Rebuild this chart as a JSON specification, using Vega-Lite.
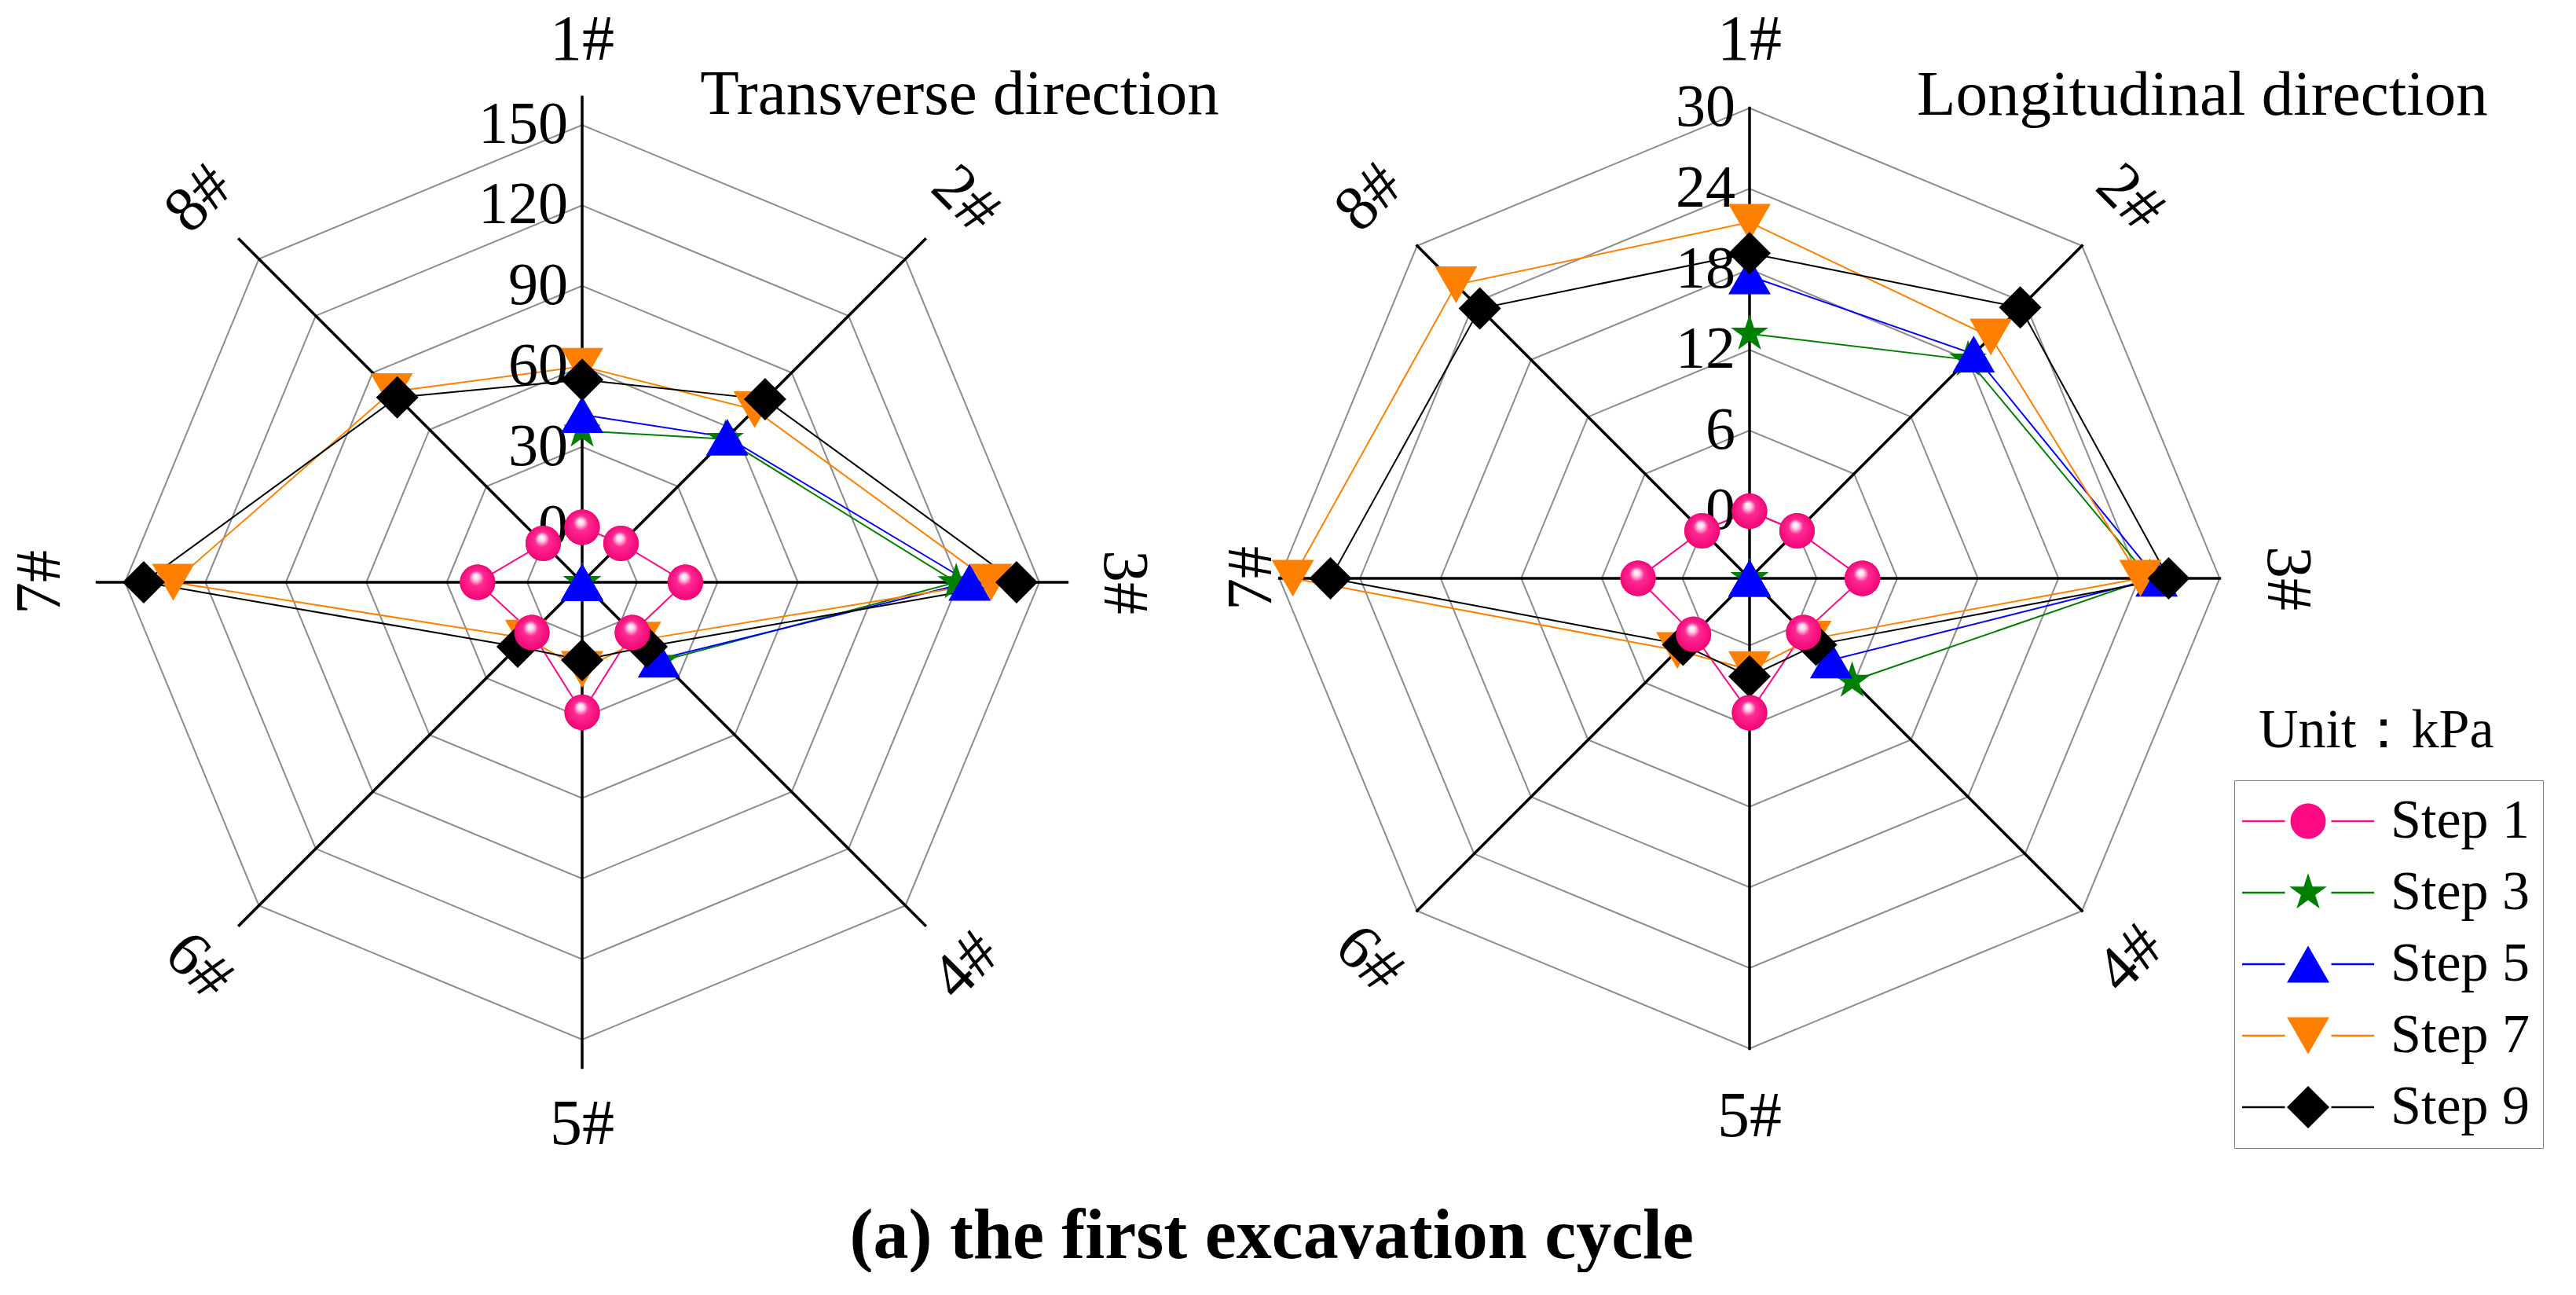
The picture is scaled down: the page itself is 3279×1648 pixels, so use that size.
{
  "$schema": "https://vega.github.io/schema/vega-lite/v6.json",
  "padding": 0,
  "background": "white",
  "bounds": "flush",
  "spacing": 0,
  "title": {"text": "(a) the first excavation cycle", "orient": "bottom", "anchor": "middle", "font": "Liberation Serif", "fontSize": 90, "fontWeight": "bold", "color": "black", "offset": 48},
  "config": {"view": {"stroke": null}, "axis": {"disable": true}, "text": {"font": "Liberation Serif", "color": "black"}},
  "datasets": {
    "trans": [
      {"step": "Step 1", "probe": "1#", "value": 0}, {"step": "Step 1", "probe": "2#", "value": 0}, {"step": "Step 1", "probe": "3#", "value": 18}, {"step": "Step 1", "probe": "4#", "value": 6}, {"step": "Step 1", "probe": "5#", "value": 28}, {"step": "Step 1", "probe": "6#", "value": 6}, {"step": "Step 1", "probe": "7#", "value": 18.5}, {"step": "Step 1", "probe": "8#", "value": 0},
      {"step": "Step 3", "probe": "1#", "value": 36}, {"step": "Step 3", "probe": "2#", "value": 55}, {"step": "Step 3", "probe": "3#", "value": 119}, {"step": "Step 3", "probe": "4#", "value": 21}, {"step": "Step 3", "probe": "5#", "value": -20.5}, {"step": "Step 3", "probe": "6#", "value": -20.5}, {"step": "Step 3", "probe": "7#", "value": -20.5}, {"step": "Step 3", "probe": "8#", "value": -20.5},
      {"step": "Step 5", "probe": "1#", "value": 42}, {"step": "Step 5", "probe": "2#", "value": 56}, {"step": "Step 5", "probe": "3#", "value": 124}, {"step": "Step 5", "probe": "4#", "value": 20}, {"step": "Step 5", "probe": "5#", "value": -20.5}, {"step": "Step 5", "probe": "6#", "value": -20.5}, {"step": "Step 5", "probe": "7#", "value": -20.5}, {"step": "Step 5", "probe": "8#", "value": -20.5},
      {"step": "Step 7", "probe": "1#", "value": 60}, {"step": "Step 7", "probe": "2#", "value": 70.5}, {"step": "Step 7", "probe": "3#", "value": 132}, {"step": "Step 7", "probe": "4#", "value": 10}, {"step": "Step 7", "probe": "5#", "value": 12}, {"step": "Step 7", "probe": "6#", "value": 9}, {"step": "Step 7", "probe": "7#", "value": 132}, {"step": "Step 7", "probe": "8#", "value": 80},
      {"step": "Step 9", "probe": "1#", "value": 55}, {"step": "Step 9", "probe": "2#", "value": 76}, {"step": "Step 9", "probe": "3#", "value": 141.5}, {"step": "Step 9", "probe": "4#", "value": 13.5}, {"step": "Step 9", "probe": "5#", "value": 8.5}, {"step": "Step 9", "probe": "6#", "value": 13.5}, {"step": "Step 9", "probe": "7#", "value": 143}, {"step": "Step 9", "probe": "8#", "value": 77}
    ],
    "longi": [
      {"step": "Step 1", "probe": "1#", "value": 0}, {"step": "Step 1", "probe": "2#", "value": 0}, {"step": "Step 1", "probe": "3#", "value": 3.4}, {"step": "Step 1", "probe": "4#", "value": 0.7}, {"step": "Step 1", "probe": "5#", "value": 5}, {"step": "Step 1", "probe": "6#", "value": 0.9}, {"step": "Step 1", "probe": "7#", "value": 3.3}, {"step": "Step 1", "probe": "8#", "value": 0},
      {"step": "Step 3", "probe": "1#", "value": 13.2}, {"step": "Step 3", "probe": "2#", "value": 18}, {"step": "Step 3", "probe": "3#", "value": 24.8}, {"step": "Step 3", "probe": "4#", "value": 5.8}, {"step": "Step 3", "probe": "5#", "value": -5}, {"step": "Step 3", "probe": "6#", "value": -5}, {"step": "Step 3", "probe": "7#", "value": -5}, {"step": "Step 3", "probe": "8#", "value": -5},
      {"step": "Step 5", "probe": "1#", "value": 17.5}, {"step": "Step 5", "probe": "2#", "value": 18.6}, {"step": "Step 5", "probe": "3#", "value": 25.3}, {"step": "Step 5", "probe": "4#", "value": 3.6}, {"step": "Step 5", "probe": "5#", "value": -5}, {"step": "Step 5", "probe": "6#", "value": -5}, {"step": "Step 5", "probe": "7#", "value": -5}, {"step": "Step 5", "probe": "8#", "value": -5},
      {"step": "Step 7", "probe": "1#", "value": 21.5}, {"step": "Step 7", "probe": "2#", "value": 20.4}, {"step": "Step 7", "probe": "3#", "value": 24.1}, {"step": "Step 7", "probe": "4#", "value": 1.4}, {"step": "Step 7", "probe": "5#", "value": 1.8}, {"step": "Step 7", "probe": "6#", "value": 2.6}, {"step": "Step 7", "probe": "7#", "value": 29}, {"step": "Step 7", "probe": "8#", "value": 25.9},
      {"step": "Step 9", "probe": "1#", "value": 19.2}, {"step": "Step 9", "probe": "2#", "value": 23.5}, {"step": "Step 9", "probe": "3#", "value": 26.2}, {"step": "Step 9", "probe": "4#", "value": 2}, {"step": "Step 9", "probe": "5#", "value": 2.3}, {"step": "Step 9", "probe": "6#", "value": 2}, {"step": "Step 9", "probe": "7#", "value": 26.2}, {"step": "Step 9", "probe": "8#", "value": 23.4}
    ],
    "probes": [{"probe": "1#"}, {"probe": "2#"}, {"probe": "3#"}, {"probe": "4#"}, {"probe": "5#"}, {"probe": "6#"}, {"probe": "7#"}, {"probe": "8#"}]
  },
  "hconcat": [
    {
      "width": 1482,
      "height": 1482,
      "layer": [
        {
          "data": {"values": [
            {"ring": 0, "probe": ["1#", "2#", "3#", "4#", "5#", "6#", "7#", "8#"]},
            {"ring": 30, "probe": ["1#", "2#", "3#", "4#", "5#", "6#", "7#", "8#"]},
            {"ring": 60, "probe": ["1#", "2#", "3#", "4#", "5#", "6#", "7#", "8#"]},
            {"ring": 90, "probe": ["1#", "2#", "3#", "4#", "5#", "6#", "7#", "8#"]},
            {"ring": 120, "probe": ["1#", "2#", "3#", "4#", "5#", "6#", "7#", "8#"]},
            {"ring": 150, "probe": ["1#", "2#", "3#", "4#", "5#", "6#", "7#", "8#"]}
          ]},
          "transform": [
            {"flatten": ["probe"]},
            {"calculate": "indexof(['1#','2#','3#','4#','5#','6#','7#','8#'], datum.probe)", "as": "i"},
            {"calculate": "(datum.ring + 20.5) * sin(datum.i * PI / 4)", "as": "px"},
            {"calculate": "(datum.ring + 20.5) * cos(datum.i * PI / 4)", "as": "py"}
          ],
          "mark": {"type": "line", "interpolate": "linear-closed", "color": "#8c8c8c", "strokeWidth": 2},
          "encoding": {
            "x": {"field": "px", "type": "quantitative", "scale": {"domain": [-217.1, 217.1], "nice": false, "zero": false}, "axis": null},
            "y": {"field": "py", "type": "quantitative", "scale": {"domain": [-217.1, 217.1], "nice": false, "zero": false}, "axis": null},
            "detail": {"field": "ring", "type": "nominal"},
            "order": {"field": "i", "type": "quantitative"}
          }
        },
        {
          "data": {"name": "trans"},
          "transform": [
            {"calculate": "indexof(['1#','2#','3#','4#','5#','6#','7#','8#'], datum.probe)", "as": "i"},
            {"calculate": "(datum.value + 20.5) * sin(datum.i * PI / 4)", "as": "px"},
            {"calculate": "(datum.value + 20.5) * cos(datum.i * PI / 4)", "as": "py"}
          ],
          "mark": {"type": "line", "interpolate": "linear-closed", "strokeWidth": 2},
          "encoding": {
            "x": {"field": "px", "type": "quantitative", "axis": null},
            "y": {"field": "py", "type": "quantitative", "axis": null},
            "color": {"field": "step", "type": "nominal", "scale": {"domain": ["Step 1", "Step 3", "Step 5", "Step 7", "Step 9"], "range": ["#ff0a84", "#008000", "#0000ff", "#ff8000", "#000000"]}},
            "order": {"field": "i", "type": "quantitative"}
          }
        },
        {
          "data": {"name": "probes"},
          "transform": [
            {"calculate": "indexof(['1#','2#','3#','4#','5#','6#','7#','8#'], datum.probe)", "as": "i"},
            {"calculate": "181.4 * sin(datum.i * PI / 4)", "as": "px"},
            {"calculate": "181.4 * cos(datum.i * PI / 4)", "as": "py"}
          ],
          "mark": {"type": "rule", "color": "#000000", "strokeWidth": 3.5},
          "encoding": {
            "x": {"field": "px", "type": "quantitative", "axis": null},
            "y": {"field": "py", "type": "quantitative", "axis": null},
            "x2": {"datum": 0},
            "y2": {"datum": 0}
          }
        },
        {
          "data": {"values": [{"ring": 0}, {"ring": 30}, {"ring": 60}, {"ring": 90}, {"ring": 120}, {"ring": 150}]},
          "transform": [{"calculate": "datum.ring + 20.5", "as": "py"}],
          "mark": {"type": "text", "align": "right", "baseline": "middle", "dx": -18, "fontSize": 76},
          "encoding": {
            "x": {"datum": 0, "type": "quantitative", "axis": null},
            "y": {"field": "py", "type": "quantitative", "axis": null},
            "text": {"field": "ring", "type": "quantitative"}
          }
        },
        {
          "data": {"name": "probes"},
          "transform": [
            {"calculate": "indexof(['1#','2#','3#','4#','5#','6#','7#','8#'], datum.probe)", "as": "i"},
            {"calculate": "202.2 * sin(datum.i * PI / 4)", "as": "px"},
            {"calculate": "202.2 * cos(datum.i * PI / 4)", "as": "py"},
            {"calculate": "datum.i == 2 ? 90 : ((datum.i * 45 + 90) % 180) - 90", "as": "rot"}
          ],
          "mark": {"type": "text", "align": "center", "baseline": "middle", "fontSize": 82},
          "encoding": {
            "x": {"field": "px", "type": "quantitative", "axis": null},
            "y": {"field": "py", "type": "quantitative", "axis": null},
            "text": {"field": "probe", "type": "nominal"},
            "angle": {"field": "rot", "type": "quantitative", "scale": null}
          }
        },
        {
          "data": {"values": [{}]},
          "mark": {"type": "text", "align": "left", "baseline": "alphabetic", "fontSize": 81},
          "encoding": {
            "x": {"datum": 44, "type": "quantitative", "axis": null},
            "y": {"datum": 174.6, "type": "quantitative", "axis": null},
            "text": {"value": "Transverse direction"}
          }
        },
        {
          "data": {"name": "trans"},
          "transform": [
            {"calculate": "indexof(['1#','2#','3#','4#','5#','6#','7#','8#'], datum.probe)", "as": "i"},
            {"calculate": "(datum.value + 20.5) * sin(datum.i * PI / 4)", "as": "px"},
            {"calculate": "(datum.value + 20.5) * cos(datum.i * PI / 4)", "as": "py"}
          ],
          "mark": {"type": "point", "filled": true, "opacity": 1, "size": 2916},
          "encoding": {
            "x": {"field": "px", "type": "quantitative", "axis": null},
            "y": {"field": "py", "type": "quantitative", "axis": null},
            "fill": {"field": "step", "type": "nominal", "scale": {"range": ["#ff0a84", "#008000", "#0000ff", "#ff8000", "#000000"]}},
            "shape": {"field": "step", "type": "nominal", "scale": {"range": ["M0.833,0A0.833,0.833 0 1,1 -0.833,0A0.833,0.833 0 1,1 0.833,0Z", "M0,-0.93L0.2088,-0.2874L0.8844,-0.2874L0.3379,0.1097L0.5467,0.7524L0,0.3553L-0.5467,0.7524L-0.3379,0.1097L-0.8844,-0.2874L-0.2088,-0.2874Z", "triangle-up", "triangle-down", "diamond"]}}
          }
        },
        {
          "data": {"name": "trans"},
          "transform": [
            {"filter": "datum.step === 'Step 1'"},
            {"calculate": "indexof(['1#','2#','3#','4#','5#','6#','7#','8#'], datum.probe)", "as": "i"},
            {"calculate": "(datum.value + 20.5) * sin(datum.i * PI / 4)", "as": "px"},
            {"calculate": "(datum.value + 20.5) * cos(datum.i * PI / 4)", "as": "py"}
          ],
          "mark": {"type": "point", "filled": true, "opacity": 1, "size": 2916, "shape": "M0.833,0A0.833,0.833 0 1,1 -0.833,0A0.833,0.833 0 1,1 0.833,0Z",
            "fill": {"gradient": "radial", "x1": 0.45, "y1": 0.32, "r1": 0, "x2": 0.5, "y2": 0.5, "r2": 0.55,
              "stops": [{"offset": 0, "color": "#ffffff"}, {"offset": 0.16, "color": "#ffd6ea"}, {"offset": 0.38, "color": "#ff2a94"}, {"offset": 1, "color": "#f00070"}]}},
          "encoding": {
            "x": {"field": "px", "type": "quantitative", "axis": null},
            "y": {"field": "py", "type": "quantitative", "axis": null}
          }
        }
      ]
    },
    {
      "width": 1490,
      "height": 1482,
      "layer": [
        {
          "data": {"values": [
            {"ring": 0, "probe": ["1#", "2#", "3#", "4#", "5#", "6#", "7#", "8#"]},
            {"ring": 6, "probe": ["1#", "2#", "3#", "4#", "5#", "6#", "7#", "8#"]},
            {"ring": 12, "probe": ["1#", "2#", "3#", "4#", "5#", "6#", "7#", "8#"]},
            {"ring": 18, "probe": ["1#", "2#", "3#", "4#", "5#", "6#", "7#", "8#"]},
            {"ring": 24, "probe": ["1#", "2#", "3#", "4#", "5#", "6#", "7#", "8#"]},
            {"ring": 30, "probe": ["1#", "2#", "3#", "4#", "5#", "6#", "7#", "8#"]}
          ]},
          "transform": [
            {"flatten": ["probe"]},
            {"calculate": "indexof(['1#','2#','3#','4#','5#','6#','7#','8#'], datum.probe)", "as": "i"},
            {"calculate": "(datum.ring + 5) * sin(datum.i * PI / 4)", "as": "px"},
            {"calculate": "(datum.ring + 5) * cos(datum.i * PI / 4)", "as": "py"}
          ],
          "mark": {"type": "line", "interpolate": "linear-closed", "color": "#8c8c8c", "strokeWidth": 2},
          "encoding": {
            "x": {"field": "px", "type": "quantitative", "scale": {"domain": [-43.57, 43.57], "nice": false, "zero": false}, "axis": null},
            "y": {"field": "py", "type": "quantitative", "scale": {"domain": [-43.63, 43.04], "nice": false, "zero": false}, "axis": null},
            "detail": {"field": "ring", "type": "nominal"},
            "order": {"field": "i", "type": "quantitative"}
          }
        },
        {
          "data": {"name": "longi"},
          "transform": [
            {"calculate": "indexof(['1#','2#','3#','4#','5#','6#','7#','8#'], datum.probe)", "as": "i"},
            {"calculate": "(datum.value + 5) * sin(datum.i * PI / 4)", "as": "px"},
            {"calculate": "(datum.value + 5) * cos(datum.i * PI / 4)", "as": "py"}
          ],
          "mark": {"type": "line", "interpolate": "linear-closed", "strokeWidth": 2},
          "encoding": {
            "x": {"field": "px", "type": "quantitative", "axis": null},
            "y": {"field": "py", "type": "quantitative", "axis": null},
            "color": {
              "field": "step", "type": "nominal",
              "scale": {"domain": ["Step 1", "Step 3", "Step 5", "Step 7", "Step 9"], "range": ["#ff0a84", "#008000", "#0000ff", "#ff8000", "#000000"]},
              "legend": {
                "title": null, "orient": "none", "legendX": 2844, "legendY": 993,
                "strokeColor": "#808080", "padding": 17,
                "symbolType": "M-3.36,0H-1.18M1.18,0H3.36", "symbolSize": 2500, "symbolStrokeWidth": 2.5,
                "symbolOffset": 42, "labelOffset": 70,
                "labelFont": "Liberation Serif", "labelFontSize": 70, "labelColor": "black", "labelLimit": 500, "rowPadding": 21
              }
            },
            "order": {"field": "i", "type": "quantitative"}
          }
        },
        {
          "data": {"name": "probes"},
          "transform": [
            {"calculate": "indexof(['1#','2#','3#','4#','5#','6#','7#','8#'], datum.probe)", "as": "i"},
            {"calculate": "35.1 * sin(datum.i * PI / 4)", "as": "px"},
            {"calculate": "35.1 * cos(datum.i * PI / 4)", "as": "py"}
          ],
          "mark": {"type": "rule", "color": "#000000", "strokeWidth": 3.5},
          "encoding": {
            "x": {"field": "px", "type": "quantitative", "axis": null},
            "y": {"field": "py", "type": "quantitative", "axis": null},
            "x2": {"datum": 0},
            "y2": {"datum": 0}
          }
        },
        {
          "data": {"values": [{"ring": 0}, {"ring": 6}, {"ring": 12}, {"ring": 18}, {"ring": 24}, {"ring": 30}]},
          "transform": [{"calculate": "datum.ring + 5", "as": "py"}],
          "mark": {"type": "text", "align": "right", "baseline": "middle", "dx": -18, "fontSize": 76},
          "encoding": {
            "x": {"datum": 0, "type": "quantitative", "axis": null},
            "y": {"field": "py", "type": "quantitative", "axis": null},
            "text": {"field": "ring", "type": "quantitative"}
          }
        },
        {
          "data": {"name": "probes"},
          "transform": [
            {"calculate": "indexof(['1#','2#','3#','4#','5#','6#','7#','8#'], datum.probe)", "as": "i"},
            {"calculate": "datum.i == 6 ? 37.1 : 40.06", "as": "lr"},
            {"calculate": "datum.lr * sin(datum.i * PI / 4)", "as": "px"},
            {"calculate": "datum.lr * cos(datum.i * PI / 4)", "as": "py"},
            {"calculate": "datum.i == 2 ? 90 : ((datum.i * 45 + 90) % 180) - 90", "as": "rot"}
          ],
          "mark": {"type": "text", "align": "center", "baseline": "middle", "fontSize": 82},
          "encoding": {
            "x": {"field": "px", "type": "quantitative", "axis": null},
            "y": {"field": "py", "type": "quantitative", "axis": null},
            "text": {"field": "probe", "type": "nominal"},
            "angle": {"field": "rot", "type": "quantitative", "scale": null}
          }
        },
        {
          "data": {"values": [{}]},
          "mark": {"type": "text", "align": "left", "baseline": "alphabetic", "fontSize": 81},
          "encoding": {
            "x": {"datum": 12.46, "type": "quantitative", "axis": null},
            "y": {"datum": 34.5, "type": "quantitative", "axis": null},
            "text": {"value": "Longitudinal direction"}
          }
        },
        {
          "data": {"values": [{}]},
          "mark": {"type": "text", "align": "left", "baseline": "alphabetic", "fontSize": 70},
          "encoding": {
            "x": {"datum": 37.9, "type": "quantitative", "axis": null},
            "y": {"datum": -12.57, "type": "quantitative", "axis": null},
            "text": {"value": "Unit：kPa"}
          }
        },
        {
          "data": {"name": "longi"},
          "transform": [
            {"calculate": "indexof(['1#','2#','3#','4#','5#','6#','7#','8#'], datum.probe)", "as": "i"},
            {"calculate": "(datum.value + 5) * sin(datum.i * PI / 4)", "as": "px"},
            {"calculate": "(datum.value + 5) * cos(datum.i * PI / 4)", "as": "py"}
          ],
          "mark": {"type": "point", "filled": true, "opacity": 1, "size": 2916},
          "encoding": {
            "x": {"field": "px", "type": "quantitative", "axis": null},
            "y": {"field": "py", "type": "quantitative", "axis": null},
            "fill": {
              "field": "step", "type": "nominal",
              "scale": {"range": ["#ff0a84", "#008000", "#0000ff", "#ff8000", "#000000"]},
              "legend": {
                "title": null, "orient": "none", "legendX": 2844, "legendY": 993, "padding": 17,
                "symbolSize": 2916, "symbolStrokeWidth": 0, "symbolOpacity": 1,
                "symbolOffset": 42, "labelOffset": 70,
                "labelFont": "Liberation Serif", "labelFontSize": 70, "labelOpacity": 0, "labelLimit": 500, "rowPadding": 21
              }
            },
            "shape": {
              "field": "step", "type": "nominal",
              "scale": {"range": ["M0.833,0A0.833,0.833 0 1,1 -0.833,0A0.833,0.833 0 1,1 0.833,0Z", "M0,-0.93L0.2088,-0.2874L0.8844,-0.2874L0.3379,0.1097L0.5467,0.7524L0,0.3553L-0.5467,0.7524L-0.3379,0.1097L-0.8844,-0.2874L-0.2088,-0.2874Z", "triangle-up", "triangle-down", "diamond"]},
              "legend": {
                "title": null, "orient": "none", "legendX": 2844, "legendY": 993, "padding": 17,
                "symbolSize": 2916, "symbolStrokeWidth": 0, "symbolOpacity": 1,
                "symbolOffset": 42, "labelOffset": 70,
                "labelFont": "Liberation Serif", "labelFontSize": 70, "labelOpacity": 0, "labelLimit": 500, "rowPadding": 21
              }
            }
          }
        },
        {
          "data": {"name": "longi"},
          "transform": [
            {"filter": "datum.step === 'Step 1'"},
            {"calculate": "indexof(['1#','2#','3#','4#','5#','6#','7#','8#'], datum.probe)", "as": "i"},
            {"calculate": "(datum.value + 5) * sin(datum.i * PI / 4)", "as": "px"},
            {"calculate": "(datum.value + 5) * cos(datum.i * PI / 4)", "as": "py"}
          ],
          "mark": {"type": "point", "filled": true, "opacity": 1, "size": 2916, "shape": "M0.833,0A0.833,0.833 0 1,1 -0.833,0A0.833,0.833 0 1,1 0.833,0Z",
            "fill": {"gradient": "radial", "x1": 0.45, "y1": 0.32, "r1": 0, "x2": 0.5, "y2": 0.5, "r2": 0.55,
              "stops": [{"offset": 0, "color": "#ffffff"}, {"offset": 0.16, "color": "#ffd6ea"}, {"offset": 0.38, "color": "#ff2a94"}, {"offset": 1, "color": "#f00070"}]}},
          "encoding": {
            "x": {"field": "px", "type": "quantitative", "axis": null},
            "y": {"field": "py", "type": "quantitative", "axis": null}
          }
        }
      ]
    }
  ]
}
